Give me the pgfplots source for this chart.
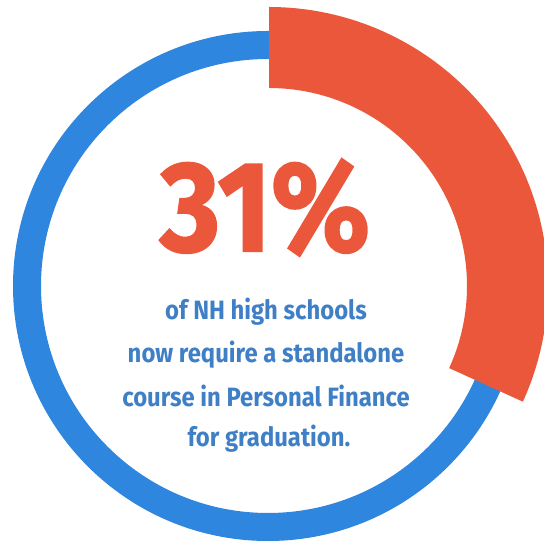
\documentclass[border=0pt]{standalone}
\usepackage{pgfplots}
\pgfplotsset{compat=1.18}
\usepackage{fontspec}
\setmainfont{Fira Sans}
\newfontfamily\bodyfont[FakeStretch=0.9]{Fira Sans}
\newfontfamily\bigfont[FakeStretch=0.9, FakeBold=1.6]{Fira Sans}
\definecolor{ringblue}{HTML}{2E86DE}
\definecolor{arcorange}{HTML}{EA573A}
\definecolor{textblue}{HTML}{3F7FC6}
\begin{document}
\begin{tikzpicture}
\path[use as bounding box] (0,0) rectangle (544pt,543pt);
\begin{axis}[
  hide axis, scale only axis, x=1pt, y=1pt,
  xmin=0, xmax=544, ymin=0, ymax=543, clip=false,
  anchor=south west, at={(0,0)}
]
% share of NH high schools requiring a standalone personal finance course: 31%
\fill[ringblue, even odd rule] (axis cs:268,257) circle[radius=255pt] (axis cs:268,257) circle[radius=227pt];
\fill[arcorange] (axis cs:269,455) -- (axis cs:269,536) arc[start angle=90, end angle=-24.5, radius=279pt]
   -- ++(-81pt*0.9100,81pt*0.4147) arc[start angle=-24.5, end angle=90, radius=198pt] -- cycle;
\node[anchor=base, text=arcorange, inner sep=0pt] at (axis cs:265,292) {\bigfont\bfseries\fontsize{128}{128}\selectfont 31\%};
\node[anchor=base, text=textblue, inner sep=0pt] at (axis cs:266,223) {\bodyfont\bfseries\fontsize{26.5}{30}\selectfont of NH high schools};
\node[anchor=base, text=textblue, inner sep=0pt] at (axis cs:266,180) {\bodyfont\bfseries\fontsize{26.5}{30}\selectfont now require a standalone};
\node[anchor=base, text=textblue, inner sep=0pt] at (axis cs:266,136) {\bodyfont\bfseries\fontsize{26.5}{30}\selectfont course in Personal Finance};
\node[anchor=base, text=textblue, inner sep=0pt] at (axis cs:269,96) {\bodyfont\bfseries\fontsize{26.5}{30}\selectfont for graduation.};
\end{axis}
\end{tikzpicture}
\end{document}
